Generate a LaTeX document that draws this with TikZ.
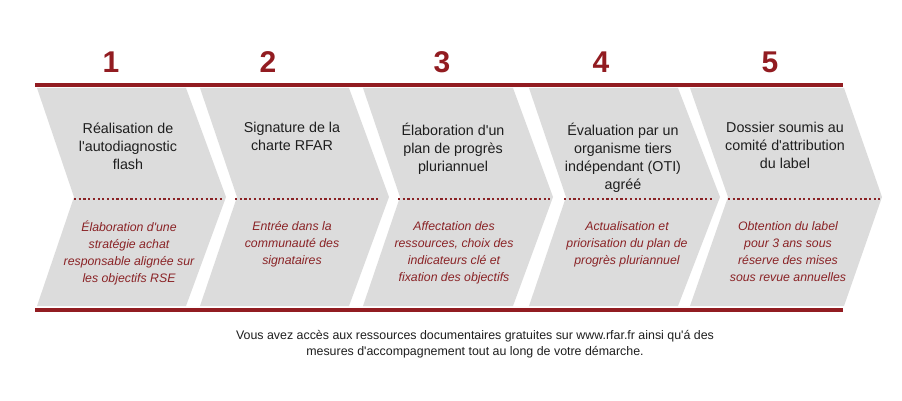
\documentclass[tikz,border=0pt]{standalone}
\usepackage{fontspec}
\setmainfont{Liberation Sans}
\newcommand\aq{\textquotesingle}
\definecolor{rfarred}{HTML}{921C21}
\definecolor{descred}{HTML}{8A2326}
\definecolor{chevgray}{HTML}{DCDCDC}
\definecolor{titleblack}{HTML}{1E1E1E}
\begin{document}
\begin{tikzpicture}[x=1pt,y=-1pt,
  chev/.style={fill=chevgray},
  num/.style={anchor=base,text=rfarred,font=\fontsize{30}{30}\selectfont\bfseries},
  title/.style={anchor=north,align=center,inner sep=0pt,text=titleblack,
    font=\fontsize{14.3}{18}\selectfont,execute at begin node=\strut},
  desc/.style={anchor=north,align=center,inner sep=0pt,text=descred,
    font=\fontsize{12.3}{17}\selectfont\itshape,execute at begin node=\strut},
  redline/.style={rfarred,line width=4pt},
  dots/.style={descred,line width=2.2pt,dash pattern=on 2.2pt off 2.5pt}]
\useasboundingbox[fill=white] (0,0) rectangle (902,401);
% chevrons
\fill[chev] (37,88) -- (186,88) -- (226,197) -- (186,306) -- (37,306) -- (74,197) -- cycle;
\fill[chev] (200,88) -- (349,88) -- (389,197) -- (349,306) -- (200,306) -- (237,197) -- cycle;
\fill[chev] (363,88) -- (513,88) -- (553,197) -- (513,306) -- (363,306) -- (400,197) -- cycle;
\fill[chev] (529,88) -- (678,88) -- (720,197) -- (678,306) -- (529,306) -- (566,197) -- cycle;
\fill[chev] (690,88) -- (844,88) -- (882,197) -- (844,306) -- (690,306) -- (728,197) -- cycle;
% red rules
\draw[redline] (35,85) -- (843,85);
\draw[redline] (35,310) -- (843,310);
% dotted separators
\draw[dots] (74,199) -- (222,199);
\draw[dots] (235,199) -- (380,199);
\draw[dots] (398,199) -- (550,199);
\draw[dots] (564,199) -- (712,199);
\draw[dots] (728,199) -- (880,199);
% step numbers
\node[num] (N1) at (111,73) {1};
\node[num] (N2) at (268,73) {2};
\node[num] (N3) at (442,73) {3};
\node[num] (N4) at (601,73) {4};
\node[num] (N5) at (770,73) {5};
% step titles
\node[title] (T1) at (128,122.4) {Réalisation de\\l\aq autodiagnostic\\flash};
\node[title] (T2) at (292,122.4) {Signature de la\\charte RFAR};
\node[title] (T3) at (453,122.4) {Élaboration d\aq un\\plan de progrès\\pluriannuel};
\node[title] (T4) at (623,122.4) {Évaluation par un\\organisme tiers\\indépendant (OTI)\\agréé};
\node[title] (T5) at (785,122.4) {Dossier soumis au\\comité d\aq attribution\\du label};
% step descriptions
\node[desc] (D1) at (129,221) {Élaboration d\aq une\\stratégie achat\\responsable alignée sur\\les objectifs RSE};
\node[desc] (D2) at (292,221) {Entrée dans la\\communauté des\\signataires};
\node[desc] (D3) at (454,221) {Affectation des\\ressources, choix des\\indicateurs clé et\\fixation des objectifs};
\node[desc] (D4) at (627,221) {Actualisation et\\priorisation du plan de\\progrès pluriannuel};
\node[desc] (D5) at (788,221) {Obtention du label\\pour 3 ans sous\\réserve des mises\\sous revue annuelles};
% footer
\node[anchor=north,align=center,inner sep=0pt,text=titleblack,
  font=\fontsize{12.4}{16}\selectfont,execute at begin node=\strut] (Foot) at (475,329.8)
  {Vous avez accès aux ressources documentaires gratuites sur www.rfar.fr ainsi qu\aq á des\\mesures d\aq accompagnement tout au long de votre démarche.};
\end{tikzpicture}
\end{document}
